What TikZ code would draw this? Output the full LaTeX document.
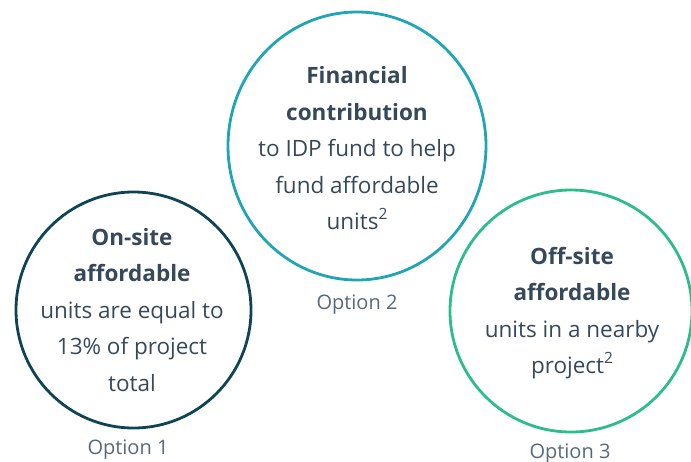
\documentclass[tikz,border=0pt]{standalone}
\usepackage{fontspec}
\setmainfont{Open Sans}

\definecolor{ringdark}{HTML}{0E4456}
\definecolor{ringteal}{HTML}{1FA5B3}
\definecolor{ringgreen}{HTML}{2DBD8B}
\definecolor{bodytext}{HTML}{36495A}
\definecolor{labeltext}{HTML}{56697A}

\newcommand{\supnum}[1]{\raisebox{0.45em}{\fontsize{15.5}{15.5}\selectfont #1}}

\tikzset{
  optiontext/.style={inner sep=0pt, align=center, text=bodytext,
    font=\fontsize{22.5}{36.5}\selectfont},
  ring/.style={line width=2.8pt},
  optlabel/.style={text=labeltext, font=\fontsize{20}{24}\selectfont, inner sep=0pt}
}

\begin{document}
\begin{tikzpicture}[x=1pt, y=-1pt]
  \useasboundingbox (0,0) rectangle (691,461);

  % on-site option
  \node[optiontext] (onsite) at (132,310)
    {\textbf{On-site}\\ \textbf{affordable}\\ units are equal to\\ 13\% of project\\ total};
  \draw[ring, draw=ringdark] (onsite.center) ++(1.5,0) ellipse [x radius=117.5, y radius=118];

  % financial contribution option
  \node[optiontext] (fund) at (357,148.5)
    {\textbf{Financial}\\ \textbf{contribution}\\ to IDP fund to help\\ fund affordable\\ units\supnum{2}};
  \draw[ring, draw=ringteal] (fund.center) ++(0,-2.5) ellipse [x radius=129, y radius=134];

  % off-site option
  \node[optiontext] (offsite) at (572,313)
    {\textbf{Off-site}\\ \textbf{affordable}\\ units in a nearby\\ project\supnum{2}};
  \draw[ring, draw=ringgreen] (offsite.center) ++(-1,-2) ellipse [x radius=121, y radius=121];

  % captions
  \node[optlabel] (lab1) at (128,450) {Option 1};
  \node[optlabel] (lab2) at (357,305) {Option 2};
  \node[optlabel] (lab3) at (570,454) {Option 3};
\end{tikzpicture}
\end{document}
